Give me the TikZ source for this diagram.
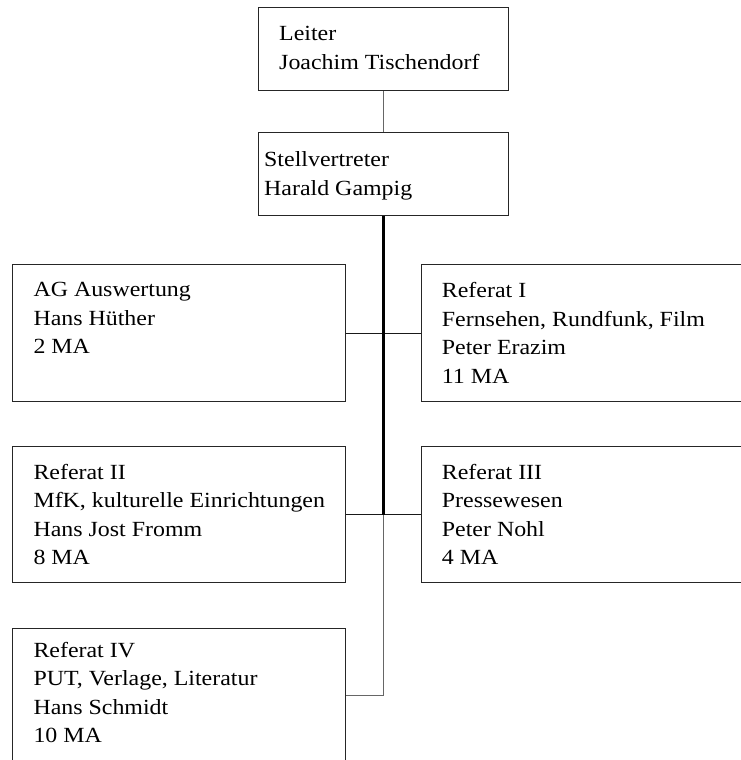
\documentclass[tikz,border=0pt]{standalone}
\usepackage{fontspec}
\setmainfont{Liberation Serif}[FakeStretch=1.107]
\newcommand\firstline{\rule{0pt}{20pt}}
\begin{document}
\begin{tikzpicture}[x=1pt,y=-1pt,
  box/.style={draw=black!85, line width=1.1pt, rectangle, anchor=north west, inner sep=0pt},
  txt/.style={anchor=north west, inner sep=0pt, align=left, font=\fontsize{21.6pt}{28.4pt}\selectfont},
  thinlink/.style={draw=black!60, line width=1.2pt},
  hlink/.style={draw=black!90, line width=1.1pt},
  trunk/.style={draw=black, line width=2.4pt}]
\useasboundingbox (0,0) rectangle (741,760);
\clip (0,0) rectangle (741,760);
\fill[white] (0,0) rectangle (741,760);
% boxes
\node[box, minimum width=250pt, minimum height=83pt] (leiter) at (258,7) {};
\node[box, minimum width=250pt, minimum height=83pt] (stell) at (258,132) {};
\node[box, minimum width=333pt, minimum height=136.4pt] (ag) at (12.3,264.3) {};
\node[box, minimum width=333pt, minimum height=136.4pt] (r1) at (420.7,264.3) {};
\node[box, minimum width=333pt, minimum height=136.3pt] (r2) at (12.3,446) {};
\node[box, minimum width=333pt, minimum height=136.3pt] (r3) at (420.7,446) {};
\node[box, minimum width=333pt, minimum height=133.4pt] (r4) at (12.3,628.3) {};
% texts
\node[txt] (leiterT) at (279,20.7) {\firstline Leiter\\Joachim Tischendorf};
\node[txt] (stellT) at (264,146.7) {\firstline Stellvertreter\\Harald Gampig};
\node[txt] (agT) at (33.3,276.7) {\firstline AG Auswertung\\Hans Hüther\\2 MA};
\node[txt] (r1T) at (441.7,277.7) {\firstline Referat I\\Fernsehen, Rundfunk, Film\\Peter Erazim\\11 MA};
\node[txt] (r2T) at (33.3,459.3) {\firstline Referat II\\MfK, kulturelle Einrichtungen\\Hans Jost Fromm\\8 MA};
\node[txt] (r3T) at (441.7,459.3) {\firstline Referat III\\Pressewesen\\Peter Nohl\\4 MA};
\node[txt] (r4T) at (33.3,637) {\firstline Referat IV\\PUT, Verlage, Literatur\\Hans Schmidt\\10 MA};
% connectors
\coordinate (j2) at (stell.south |- r2.east);
\coordinate (j3) at (stell.south |- r4.east);
\draw[thinlink] (leiter.south) -- (stell.north);
\draw[hlink] (ag.east) -- (r1.west);
\draw[hlink] (r2.east) -- (r3.west);
\draw[thinlink] (j2) -- (j3);
\draw[thinlink] (r4.east) -- (j3);
\draw[trunk] (stell.south) -- (j2);
\end{tikzpicture}
\end{document}
